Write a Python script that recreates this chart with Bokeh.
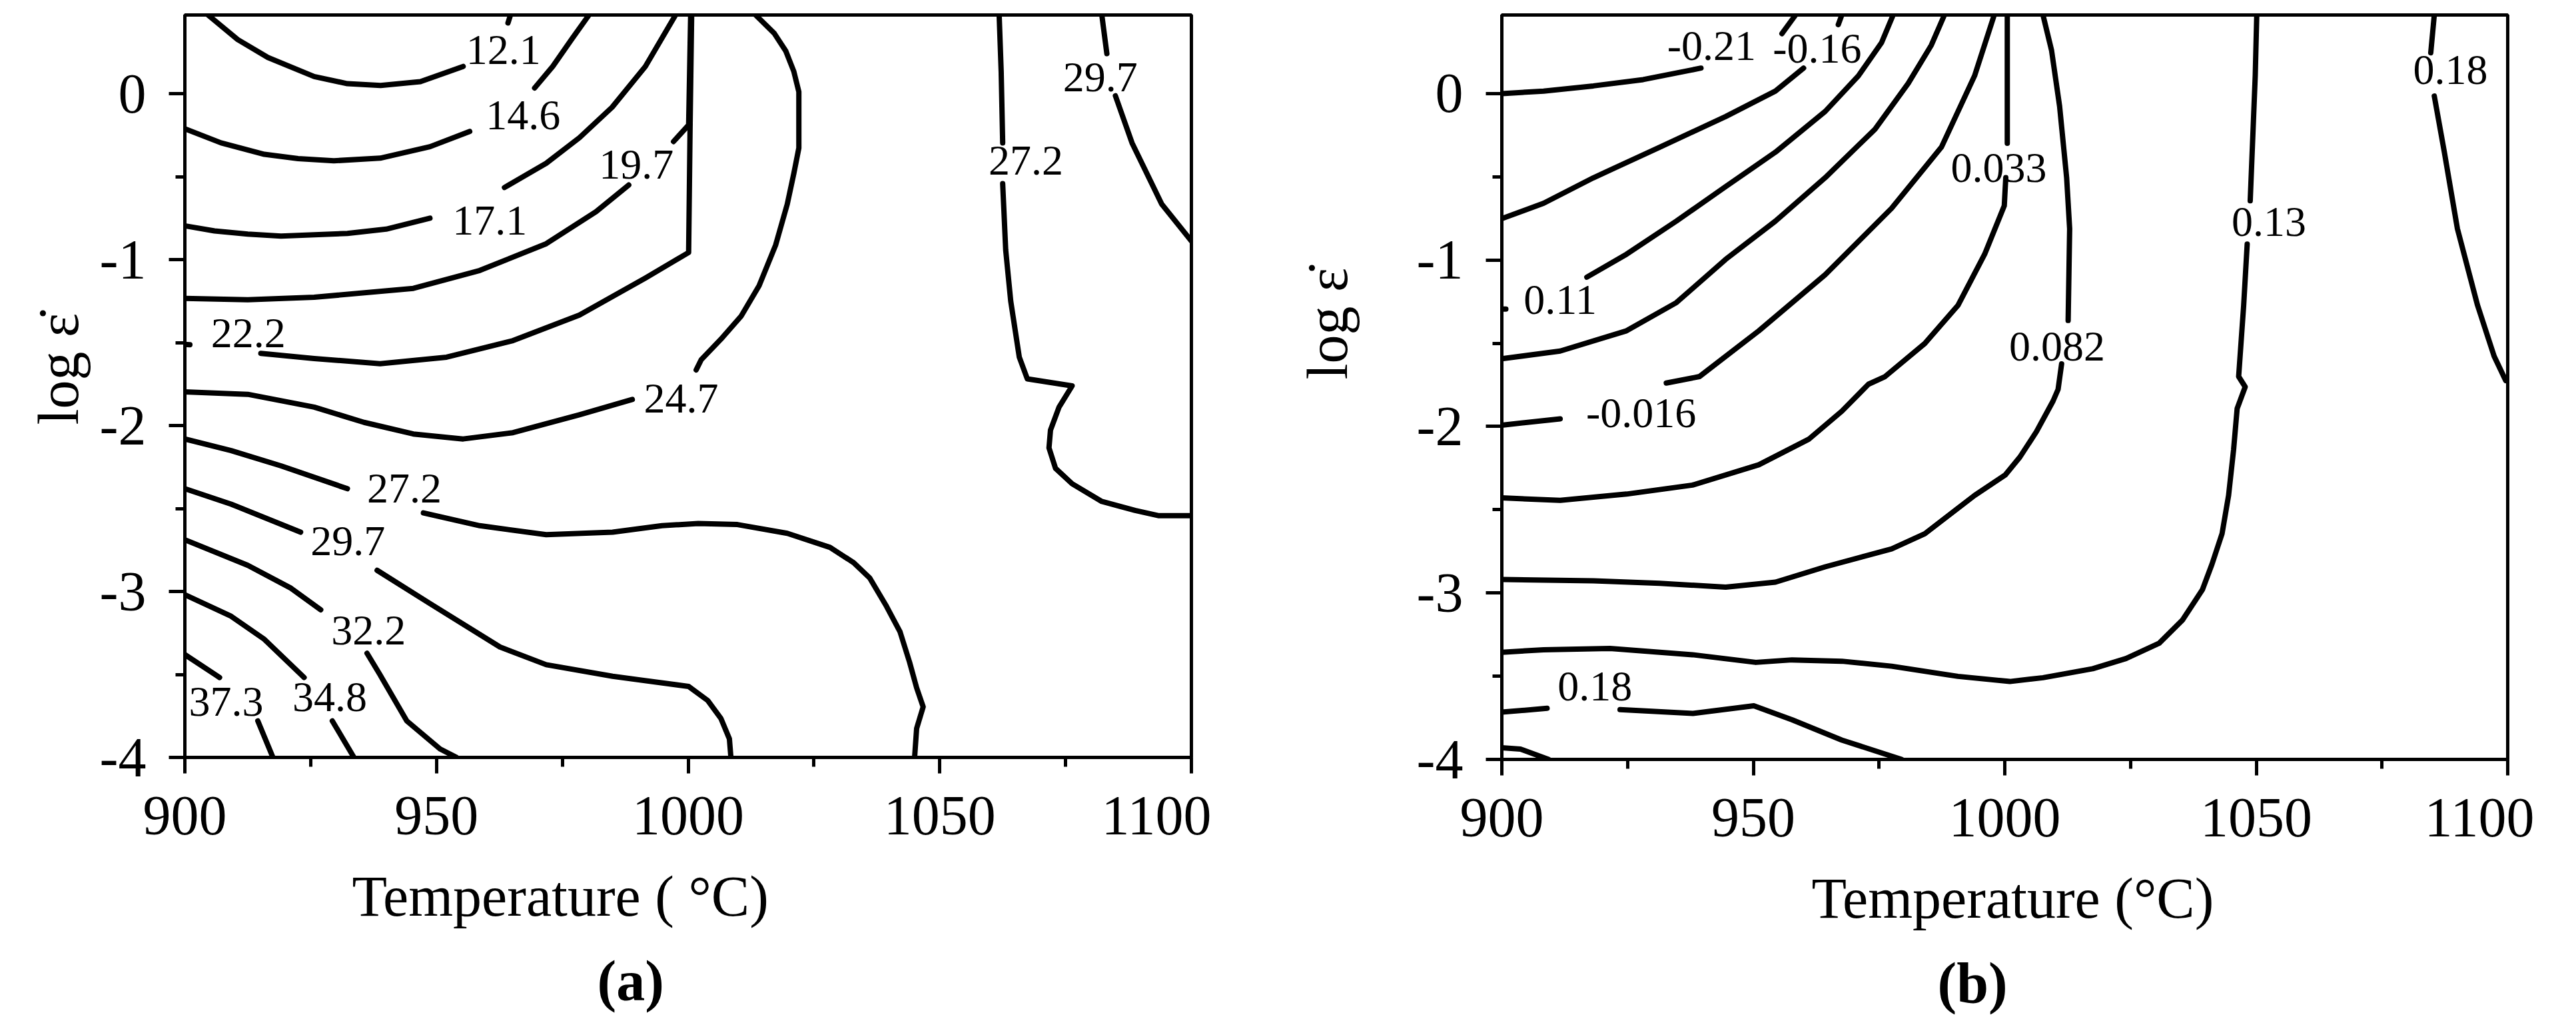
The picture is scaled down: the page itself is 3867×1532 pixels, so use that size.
from bokeh.plotting import figure
from bokeh.models import Range1d, FixedTicker, Title, ColumnDataSource
from bokeh.layouts import row
from bokeh.core.properties import value
from bokeh.embed import file_html
from bokeh.resources import INLINE

N = float("nan")

# ---------------- Panel (a) contour lines (Temperature degC, log strain rate) ----------------
a_121_T = [904.6, 910.5, 916.5, 925.7, 932.3, 938.9, 946.8, 955.3, N, 964.2, 964.7]
a_121_Y = [0.476, 0.328, 0.220, 0.105, 0.062, 0.051, 0.074, 0.166, N, 0.428, 0.476]

a_146_T = [900.0, 907.2, 915.8, 922.5, 929.6, 938.8, 948.7, 956.6, N, 969.5, 973.1, 977.0, 980.3]
a_146_Y = [-0.210, -0.295, -0.364, -0.390, -0.403, -0.387, -0.318, -0.226, N, 0.036, 0.166, 0.336, 0.476]

a_171_T = [900.0, 905.9, 912.5, 919.1, 932.3, 940.0, 948.7, N, 963.5, 971.8, 978.4, 984.9, 991.5, 997.5]
a_171_Y = [-0.795, -0.826, -0.845, -0.857, -0.841, -0.815, -0.749, N, -0.564, -0.418, -0.264, -0.080, 0.166, 0.476]

a_197_T = [900.0, 912.5, 925.7, 945.4, 958.6, 971.8, 981.7, 988.2, N, 997.1, 1000.1, 1000.5]
a_197_Y = [-1.233, -1.241, -1.226, -1.172, -1.064, -0.903, -0.710, -0.549, N, -0.287, -0.187, 0.476]

a_222_T = [900.0, 901.0, N, 915.1, 925.7, 938.8, 952.0, 965.2, 978.4, 991.5, 1000.1, 1000.4, 1000.7]
a_222_Y = [-1.510, -1.512, N, -1.564, -1.595, -1.626, -1.587, -1.487, -1.333, -1.110, -0.956, -0.172, 0.476]

a_247_T = [900.0, 912.5, 925.7, 935.6, 945.4, 955.3, 965.2, 978.4, 988.9, N,
           1001.6, 1002.6, 1006.5, 1010.5, 1014.1, 1017.4, 1019.7, 1021.0, 1022.0, 1022.0, 1021.0, 1019.4, 1017.1, 1013.4]
a_247_Y = [-1.796, -1.811, -1.888, -1.980, -2.050, -2.080, -2.042, -1.934, -1.842, N,
           -1.664, -1.602, -1.479, -1.341, -1.156, -0.910, -0.664, -0.480, -0.326, 0.013, 0.136, 0.259, 0.366, 0.476]

a_272_T = [900.0, 909.2, 919.1, 932.3, N, 947.4, 958.6, 971.8, 985.0, 994.8, 1002.0, 1009.8, 1019.7, 1028.2,
           1032.9, 1036.1, 1039.4, 1042.1, 1044.0, 1045.4, 1046.7, 1045.4, 1045.0]
a_272_Y = [-2.080, -2.150, -2.242, -2.380, N, -2.526, -2.603, -2.657, -2.642, -2.603, -2.590, -2.596, -2.649, -2.734,
           -2.826, -2.919, -3.088, -3.242, -3.426, -3.580, -3.695, -3.826, -4.0]

a_272b_T = [1061.8, 1062.2, 1062.5, N, 1062.5, 1063.1, 1064.1, 1065.8, 1067.4, 1076.3, 1073.7, 1072.0, 1071.7,
            1073.0, 1076.3, 1082.2, 1088.8, 1093.4, 1100.0]
a_272b_Y = [0.476, 0.136, -0.295, N, -0.541, -0.941, -1.249, -1.587, -1.718, -1.760, -1.888, -2.027, -2.134,
            -2.257, -2.350, -2.457, -2.511, -2.542, -2.542]

a_297_T = [1082.2, 1083.2, N, 1084.9, 1088.2, 1094.1, 1100.0]
a_297_Y = [0.476, 0.243, N, -0.011, -0.295, -0.664, -0.887]

a_297b_T = [900.0, 909.2, 923.0, N, 938.2, 948.7, 962.6, 971.8, 985.0, 1000.1, 1003.9, 1006.5, 1008.2, 1008.5]
a_297b_Y = [-2.380, -2.473, -2.642, N, -2.872, -3.072, -3.334, -3.441, -3.511, -3.572, -3.657, -3.764, -3.888, -4.0]

a_322_T = [900.0, 912.5, 921.1, 927.0, N, 936.2, 938.8, 944.1, 950.7, 954.0]
a_322_Y = [-2.688, -2.842, -2.980, -3.110, N, -3.372, -3.503, -3.780, -3.949, -4.0]

a_348_T = [900.0, 909.2, 915.8, 923.7, N, 929.3, 933.6]
a_348_Y = [-3.019, -3.149, -3.288, -3.518, N, -3.780, -4.0]

a_373_T = [900.0, 906.9, N, 914.5, 917.5]
a_373_Y = [-3.380, -3.518, N, -3.780, -4.0]

a_label_text = ["12.1", "14.6", "17.1", "19.7", "22.2", "24.7", "27.2", "27.2",
                "29.7", "29.7", "32.2", "34.8", "37.3"]
a_label_T = [963.3, 967.2, 960.6, 989.7, 912.6, 998.6, 943.6, 1067.1, 1081.9, 932.4, 936.5, 928.8, 908.2]
a_label_Y = [0.266, -0.129, -0.764, -0.426, -1.441, -1.835, -2.377, -0.400, 0.102, -2.695, -3.234, -3.638, -3.664]

# ---------------- Panel (b) contour lines ----------------
b_m021_T = [900.0, 908.3, 918.2, 928.1, 939.6, N, 955.7, 958.4]
b_m021_Y = [0.000, 0.015, 0.046, 0.084, 0.153, N, 0.360, 0.472]

b_m016_T = [900.0, 908.3, 918.2, 931.4, 944.5, 954.4, 960.0, N, 966.9, 967.6]
b_m016_Y = [-0.751, -0.659, -0.506, -0.322, -0.138, 0.015, 0.153, N, 0.414, 0.472]

b_011_T = [900.0, 900.8, N, 916.9, 924.8, 934.7, 944.5, 954.4, 964.3, 970.9, 975.5, 977.8]
b_011_Y = [-1.295, -1.295, N, -1.103, -0.965, -0.766, -0.559, -0.352, -0.107, 0.107, 0.306, 0.472]

b_u1_T = [900.0, 911.6, 924.8, 934.7, 944.5, 954.4, 964.3, 974.2, 980.8, 985.4, 988.0]
b_u1_Y = [-1.593, -1.547, -1.425, -1.256, -0.996, -0.766, -0.505, -0.214, 0.061, 0.291, 0.472]

b_m0016_T = [900.0, 911.6, N, 932.7, 939.3, 951.1, 964.3, 977.5, 987.4, 994.0, 997.9]
b_m0016_Y = [-1.992, -1.954, N, -1.739, -1.700, -1.425, -1.088, -0.689, -0.322, 0.107, 0.472]

b_0033_T = [1000.5, 1000.5, N, 1000.2, 999.9, 996.0, 990.7, 984.1, 976.2, 972.9, 967.6, 961.0, 951.1,
            937.9, 924.8, 911.6, 900.0]
b_0033_Y = [0.472, -0.299, N, -0.505, -0.674, -0.965, -1.272, -1.501, -1.700, -1.746, -1.908, -2.077, -2.230,
            -2.352, -2.406, -2.444, -2.429]

b_0082_T = [1007.6, 1009.3, 1010.9, 1012.3, 1012.9, 1012.6, N, 1011.3, 1010.6, 1009.6, 1006.3, 1003.0, 1000.1,
            994.0, 984.1, 977.5, 964.3, 954.4, 944.5, 931.4, 918.2, 900.0]
b_0082_Y = [0.472, 0.260, -0.076, -0.505, -0.812, -1.363, N, -1.624, -1.777, -1.847, -2.031, -2.184, -2.291,
            -2.414, -2.644, -2.735, -2.843, -2.935, -2.965, -2.942, -2.927, -2.919]

b_013_T = [1050.1, 1049.8, 1048.8, N, 1048.2, 1047.5, 1046.5, 1047.8, 1046.2, 1045.5, 1044.5, 1043.2, 1041.2,
           1039.3, 1035.3, 1030.7, 1024.1, 1017.5, 1007.6, 1001.0, 990.7, 977.5, 967.6, 957.7, 950.5, 937.9,
           921.5, 908.3, 900.0]
b_013_Y = [0.472, 0.107, -0.644, N, -0.904, -1.272, -1.700, -1.762, -1.893, -2.138, -2.414, -2.644, -2.827,
           -2.980, -3.164, -3.302, -3.394, -3.455, -3.509, -3.532, -3.501, -3.440, -3.410, -3.402, -3.417, -3.371,
           -3.333, -3.341, -3.356]

b_018_T = [1085.4, 1084.7, N, 1085.4, 1087.4, 1090.0, 1094.0, 1097.3, 1099.6]
b_018_Y = [0.472, 0.245, N, -0.015, -0.352, -0.812, -1.272, -1.578, -1.724]

b_018b_T = [900.0, 909.0, N, 923.5, 938.0, 950.1, 957.7, 967.6, 979.5]
b_018b_Y = [-3.716, -3.693, N, -3.701, -3.724, -3.678, -3.762, -3.884, -4.0]

b_c_T = [900.0, 903.7, 909.3]
b_c_Y = [-3.930, -3.938, -4.0]

b_label_text = ["-0.21", "-0.16", "0.11", "-0.016", "0.033", "0.082", "0.13", "0.18", "0.18"]
b_label_T = [941.7, 962.7, 911.6, 927.7, 998.8, 1010.4, 1052.5, 1088.6, 918.5]
b_label_Y = [0.287, 0.268, -1.241, -1.920, -0.448, -1.520, -0.770, 0.141, -3.560]

x_major = [900, 950, 1000, 1050, 1100]
x_minor = [925, 975, 1025, 1075]
y_major = [-4, -3, -2, -1, 0]
y_minor = [-3.5, -2.5, -1.5, -0.5]
y_tick_text = ["-4", "-3", "-2", "-1", "0"]

SERIF = "Liberation Serif"


def make_panel(lines, lab_T, lab_Y, lab_text, ymax, border_left, border_top, fw, fh, border_right,
               xtitle, xtitle_off, ylab_standoff, ylab_off, cap_text, cap_off):
    p = figure(frame_width=fw, frame_height=fh, min_border_left=border_left, min_border_top=border_top,
               min_border_right=border_right, min_border_bottom=1522 - border_top - fh,
               x_range=Range1d(900, 1100), y_range=Range1d(-4, ymax),
               output_backend="svg", toolbar_location=None)
    p.background_fill_color = "white"
    p.border_fill_color = "white"
    p.grid.visible = False
    p.outline_line_color = "black"
    p.outline_line_width = 5
    p.xaxis.ticker = FixedTicker(ticks=x_major, minor_ticks=x_minor)
    p.yaxis.ticker = FixedTicker(ticks=y_major, minor_ticks=y_minor)
    p.yaxis.major_label_overrides = {v: t for v, t in zip(y_major, y_tick_text)}
    for ax in (p.xaxis[0], p.yaxis[0]):
        ax.axis_line_width = 5
        ax.major_tick_line_width = 5
        ax.minor_tick_line_width = 5
        ax.major_tick_in = 0
        ax.minor_tick_in = 0
        ax.major_tick_out = 24
        ax.minor_tick_out = 14
        ax.major_label_text_font = SERIF
        ax.major_label_text_font_size = "84px"
        ax.major_label_text_color = "black"
    p.xaxis.major_label_standoff = 35
    p.yaxis.major_label_standoff = 34

    for xs, ys in lines:
        p.line(xs, ys, line_color="black", line_width=8, line_join="round", line_cap="round")

    src = ColumnDataSource(dict(x=lab_T, y=lab_Y, t=lab_text))
    p.text(x="x", y="y", text="t", source=src, text_align="center", text_baseline="middle",
           text_font=value(SERIF), text_font_size="64px", text_color="black")

    p.add_layout(Title(text=xtitle, align="left", offset=xtitle_off, standoff=80,
                       text_font=SERIF, text_font_size="86px", text_font_style="normal",
                       text_color="black"), "below")
    p.add_layout(Title(text=cap_text, align="left", offset=cap_off, standoff=-21,
                       text_font=SERIF, text_font_size="86px", text_font_style="bold",
                       text_color="black"), "below")
    p.add_layout(Title(text="log \u03b5\u0307", align="left", offset=ylab_off, standoff=ylab_standoff,
                       text_font=SERIF, text_font_size="86px", text_font_style="normal",
                       text_color="black"), "left")
    return p


a_lines = [(a_121_T, a_121_Y), (a_146_T, a_146_Y), (a_171_T, a_171_Y), (a_197_T, a_197_Y),
           (a_222_T, a_222_Y), (a_247_T, a_247_Y), (a_272_T, a_272_Y), (a_272b_T, a_272b_Y),
           (a_297_T, a_297_Y), (a_297b_T, a_297b_Y), (a_322_T, a_322_Y), (a_348_T, a_348_Y),
           (a_373_T, a_373_Y)]
b_lines = [(b_m021_T, b_m021_Y), (b_m016_T, b_m016_Y), (b_011_T, b_011_Y), (b_u1_T, b_u1_Y),
           (b_m0016_T, b_m0016_Y), (b_0033_T, b_0033_Y), (b_0082_T, b_0082_Y), (b_013_T, b_013_Y),
           (b_018_T, b_018_Y), (b_018b_T, b_018b_Y), (b_c_T, b_c_Y)]

pa = make_panel(a_lines, a_label_T, a_label_Y, a_label_text, 0.476, 277, 22, 1511, 1114, 30,
                "Temperature ( \u00b0C)", 251, 22, 499, "(a)", 619)
pb = make_panel(b_lines, b_label_T, b_label_Y, b_label_text, 0.472, 436, 16, 1510, 1117, 40,
                "Temperature (\u00b0C)", 465, 165, 570, "(b)", 654)

layout = row(pa, pb)
open("out.html", "w").write(file_html(layout, INLINE))
